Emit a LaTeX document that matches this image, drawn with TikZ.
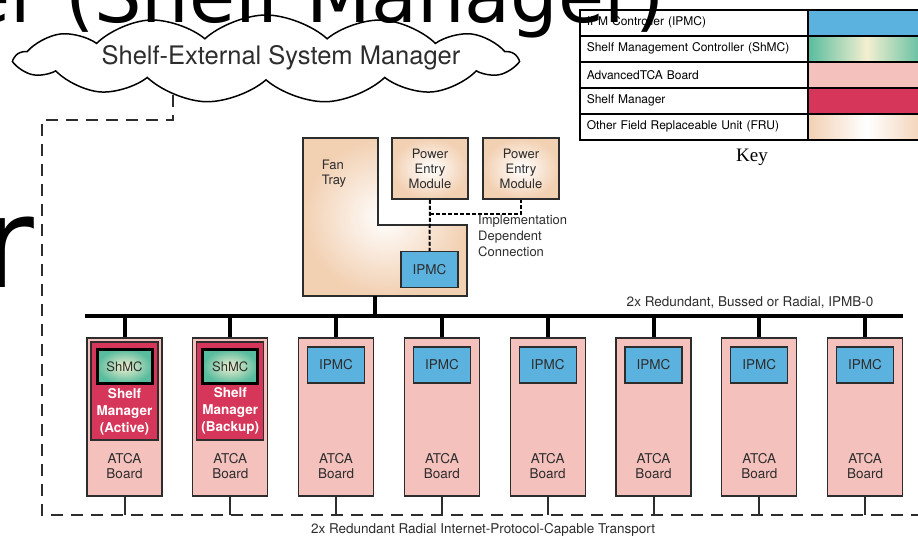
\documentclass[tikz,border=0pt]{standalone}
\usepackage{fontspec}
\setmainfont{TeX Gyre Heros}
\newfontfamily\slidefont{DejaVu Sans}
\newfontfamily\keyfont{Liberation Serif}
\usetikzlibrary{positioning,shapes.symbols,calc}

\definecolor{ipmcblue}{RGB}{91,178,222}
\definecolor{shmcteal}{RGB}{88,188,158}
\definecolor{shmccream}{RGB}{243,240,208}
\definecolor{atcapink}{RGB}{244,193,189}
\definecolor{shelfred}{RGB}{214,54,90}
\definecolor{frupeach}{RGB}{242,208,178}
\definecolor{inkgray}{RGB}{45,45,45}

\tikzset{
  lbl/.style={font=\fontsize{13}{15}\selectfont, text=inkgray, align=center, inner sep=0pt},
  board/.style={draw=inkgray, line width=1.2pt, fill=atcapink, minimum width=75pt, minimum height=158pt, inner sep=0pt},
  ipmc/.style={draw=inkgray, line width=1.2pt, fill=ipmcblue, minimum width=57pt, minimum height=36pt, inner sep=0pt, font=\fontsize{13.5}{15}\selectfont, text=inkgray},
  pem/.style={draw=inkgray, line width=1.5pt, inner color=white, outer color=frupeach, minimum width=76pt, minimum height=61pt, inner sep=0pt, align=center, font=\fontsize{13}{15}\selectfont, text=inkgray},
  shm/.style={draw=inkgray, line width=1.2pt, fill=shelfred, minimum width=67pt, minimum height=98pt, inner sep=0pt},
  shmc/.style={draw=black, line width=3pt, inner color=shmccream, outer color=shmcteal, minimum width=55pt, minimum height=34pt, inner sep=0pt, font=\fontsize{13}{15}\selectfont, text=inkgray},
  smtxt/.style={font=\bfseries\fontsize{13.5}{17}\selectfont, text=white, align=center, inner sep=0pt},
  bus/.style={line width=4pt, black},
  stub/.style={line width=2pt, inkgray},
  linkline/.style={line width=2.5pt, inkgray, dash pattern=on 12pt off 8pt},
  pemlink/.style={line width=2pt, black, dash pattern=on 4pt off 2pt},
  keycell/.style={draw=black, line width=1.5pt, anchor=north west, minimum height=26pt, text width=214pt, inner xsep=7pt, inner ysep=0pt, align=left, font=\fontsize{12}{14}\selectfont, text=black},
  swatch/.style={draw=black, line width=1.5pt, anchor=north west, minimum width=118pt, minimum height=26pt, inner sep=0pt},
  ipmcfill/.style={fill=ipmcblue},
  shmcfill/.style={left color=shmcteal, right color=shmcteal, middle color=shmccream},
  atcafill/.style={fill=atcapink},
  shelffill/.style={fill=shelfred},
  frufill/.style={left color=frupeach, right color=frupeach, middle color=white},
  slide/.style={font=\slidefont, text=black, inner sep=0pt}
}

\begin{document}
\begin{tikzpicture}[x=1pt, y=-1pt]
\useasboundingbox (0,0) rectangle (918,536);
\clip (0,0) rectangle (918,536);

\node[cloud, draw=black, line width=1.5pt, fill=white, cloud puffs=13, cloud puff arc=85, aspect=5.6, minimum width=500pt, minimum height=88pt] (sem) at (266,59) {};
\node[lbl, font=\fontsize{25.5}{27}\selectfont] (semtxt) at (281,58) {Shelf-External System Manager};

\foreach \style/\txt [count=\r] in {ipmcfill/IPM Controller (IPMC), shmcfill/Shelf Management Controller (ShMC), atcafill/AdvancedTCA Board, shelffill/Shelf Manager, frufill/Other Field Replaceable Unit (FRU)} {
  \node[keycell] (k\r) at (579,{9+26*(\r-1)}) {\txt};
  \node[swatch, \style] (s\r) at (807,{9+26*(\r-1)}) {};
}
\node[font=\keyfont\fontsize{19}{21}\selectfont, inner sep=0pt] (keylbl) at (752,157) {Key};

\draw[draw=inkgray, line width=1.5pt, inner color=white, outer color=frupeach]
  (303,138) -- (378,138) -- (378,225) -- (467,225) -- (467,296) -- (303,296) -- cycle;
\node[lbl, align=left] (fantxt) at (334,174) {Fan\\Tray};
\node[pem] (pem1) at (430,168.5) {Power\\Entry\\Module};
\node[pem] (pem2) at (521,168.5) {Power\\Entry\\Module};
\node[ipmc] (fipmc) at (429.5,269.5) {IPMC};
\draw[pemlink] (pem1.south) -- (fipmc.north);
\draw[pemlink] ($(pem1.south)+(0,14)$) -| (pem2.south);
\node[lbl, align=left, font=\fontsize{13}{16}\selectfont, anchor=north west] (impl) at (478,215) {Implementation\\Dependent\\Connection};

\coordinate (fan) at (375,296);
\coordinate (busL) at (85,316);
\coordinate (busR) at (903,316);
\draw[bus] (busL) -- (busR);
\draw[bus] (fan) -- (fan |- busL);
\node[lbl, font=\fontsize{13.5}{15}\selectfont] (buslbl) at (750,303) {2x Redundant, Bussed or Radial, IPMB-0};

\coordinate (semfoot) at (173,95);
\coordinate (bend) at (42,120);
\coordinate (ipt) at (42,515);
\coordinate (iptR) at (920,515);
\draw[linkline] (semfoot) |- (bend) -- (ipt) -- (iptR);

\foreach \i in {1,...,8} {
  \node[board] (b\i) at ({124.5+105.8*(\i-1)},417) {};
  \node[lbl, font=\fontsize{13.5}{15}\selectfont] (t\i) at ($(b\i.south)+(0,-31)$) {ATCA\\Board};
  \draw[bus] (b\i.north) -- (b\i.north |- busL);
  \draw[stub] (b\i.south) -- (b\i.south |- ipt);
}
\foreach \i in {3,...,8}
  \node[ipmc, below=9pt of b\i.north] (ip\i) {IPMC};

\foreach \i/\role in {1/Active, 2/Backup} {
  \node[shm, below=4pt of b\i.north] (sm\i) {};
  \node[shmc, below=6.5pt of sm\i.north] (shmc\i) {ShMC};
  \node[smtxt] (smt\i) at ($(sm\i.north)+(0,70)$) {Shelf\\Manager\\(\role)};
}

\node[lbl, font=\fontsize{13.5}{15}\selectfont] (iptlbl) at (483,530) {2x Redundant Radial Internet-Protocol-Capable Transport};

\node[slide, font=\slidefont\fontsize{75}{80}\selectfont, anchor=base east] (ttl) at (665,22) {er (Shelf Manager)};
\node[slide, font=\slidefont\fontsize{126}{130}\selectfont, anchor=base west] (ttl2) at (-18,287) {r};
\end{tikzpicture}
\end{document}
